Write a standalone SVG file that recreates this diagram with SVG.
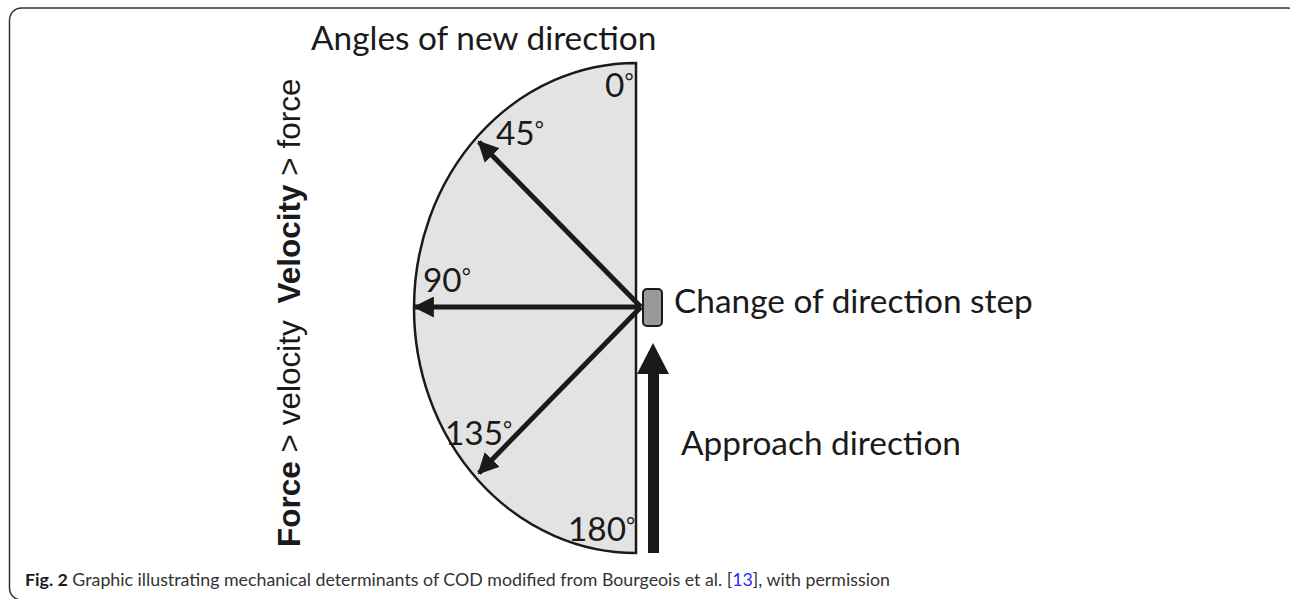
<svg xmlns="http://www.w3.org/2000/svg" width="1290" height="599" viewBox="0 0 1290 599">
<style>
.lbl{font-family:Lato,"Open Sans",sans-serif;font-size:33.4px;fill:#1a1a1a}
.deg{font-size:22px}
.vt{font-family:"Liberation Sans",Arial,sans-serif;font-size:31.5px;fill:#1a1a1a}
.cap{font-family:Lato,"Open Sans",sans-serif;font-size:17.8px;fill:#333}
.ray{stroke:#1a1a1a;stroke-width:5;fill:none}
</style>
<defs>
<marker id="ah" viewBox="0 0 10 10" refX="9" refY="5" markerWidth="4.2" markerHeight="4.2" orient="auto" markerUnits="strokeWidth">
<path d="M0,0 L10,5 L0,10 Z" fill="#1a1a1a"/>
</marker>
</defs>
<rect x="9.5" y="8" width="1290" height="592" rx="12" fill="#fff" stroke="#333" stroke-width="1.5"/>
<g id="semicircle">
<path d="M636,63 A222,245 0 0 0 636,553 Z" fill="#e3e3e3" stroke="#1a1a1a" stroke-width="2.5"/>
</g>
<g id="connectors">
<line class="ray" x1="641" y1="307" x2="479" y2="142" marker-end="url(#ah)"/>
<line class="ray" x1="641" y1="307" x2="415" y2="307" marker-end="url(#ah)"/>
<line class="ray" x1="641" y1="307" x2="479" y2="473" marker-end="url(#ah)"/>
</g>
<g id="approach">
<rect x="648" y="370" width="11" height="183" fill="#1a1a1a"/>
<path d="M637,374 L653,343 L669,374 Z" fill="#1a1a1a"/>
</g>
<g id="step">
<rect x="643" y="289" width="19" height="37" rx="4" fill="#999" stroke="#1a1a1a" stroke-width="2"/>
</g>
<g id="labels">
<text class="lbl" x="311" y="50">Angles of new direction</text>
<text class="lbl" x="605" y="97">0<tspan class="deg" dy="-8">°</tspan></text>
<text class="lbl" x="496" y="145">45<tspan class="deg" dy="-8">°</tspan></text>
<text class="lbl" x="423" y="292">90<tspan class="deg" dy="-8">°</tspan></text>
<text class="lbl" x="445" y="445">135<tspan class="deg" dy="-8">°</tspan></text>
<text class="lbl" x="568" y="541">180<tspan class="deg" dy="-8">°</tspan></text>
<text class="lbl" x="674" y="313">Change of direction step</text>
<text class="lbl" x="681" y="455">Approach direction</text>
</g>
<g id="vertical">
<text class="vt" transform="translate(300,547) rotate(-90)"><tspan font-weight="bold">Force</tspan> &gt; velocity <tspan font-weight="bold" dx="8">Velocity</tspan> &gt; force</text>
</g>
<g id="caption">
<text class="cap" x="25" y="586"><tspan font-weight="bold" fill="#1a1a1a">Fig. 2</tspan> Graphic illustrating mechanical determinants of COD modified from Bourgeois et al. [<tspan fill="#2a2aff">13</tspan>], with permission</text>
</g>
</svg>
